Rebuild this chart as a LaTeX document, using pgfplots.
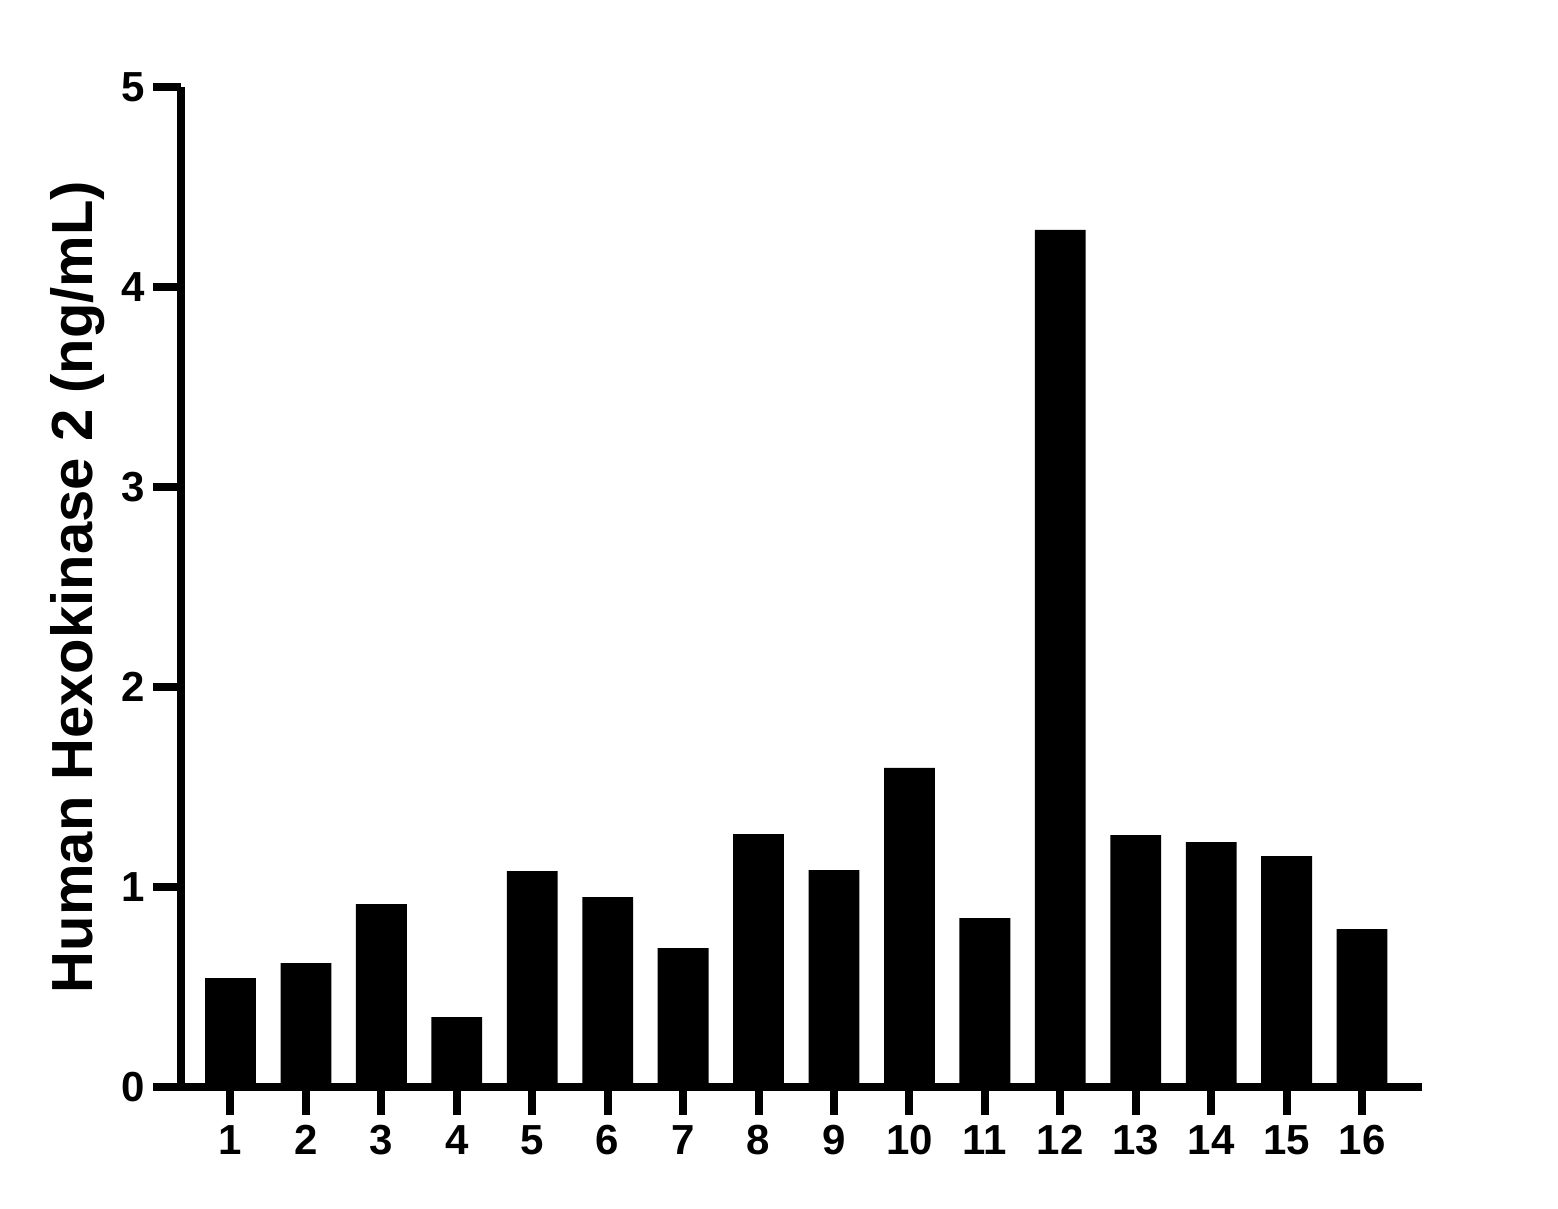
\documentclass[border=0pt]{standalone}
\usepackage{fontspec}
\setmainfont{Liberation Sans}
\usepackage{pgfplots}
\pgfplotsset{compat=1.18}

\begin{document}
\begin{tikzpicture}
\begin{axis}[
    at={(0,0)}, anchor=origin,
    scale only axis,
    width=310.25pt, height=250pt,
    xmin=0.344, xmax=16.795,
    ymin=0, ymax=5,
    axis lines=left,
    axis line style={-, line width=2pt},
    tick align=outside,
    major tick length=7pt,
    every tick/.style={black, line width=2pt},
    xtick={1,...,16},
    ytick={0,1,2,3,4,5},
    /pgf/number format/assume math mode=true,
    ticklabel style={font=\bfseries\fontsize{10.5}{12}\selectfont},
    xticklabel style={yshift=1pt},
    yticklabel style={xshift=1.5pt},
    ylabel={Human Hexokinase 2 (ng/mL)},
    ylabel style={font=\bfseries\fontsize{14.5}{16}\selectfont,
        at={(axis description cs:-0.083,0.5)}, anchor=center},
    ybar, bar width=12.7pt, bar shift=0pt,
]
\addplot[fill=black, draw=none] coordinates {
    (1,0.545) (2,0.62) (3,0.915) (4,0.35) (5,1.08) (6,0.95) (7,0.695) (8,1.265)
    (9,1.085) (10,1.595) (11,0.845) (12,4.285) (13,1.26) (14,1.225) (15,1.155) (16,0.79)
};
\end{axis}
\useasboundingbox (-45.25pt,-30.25pt) rectangle (344.25pt,271.75pt);
\end{tikzpicture}
\end{document}
